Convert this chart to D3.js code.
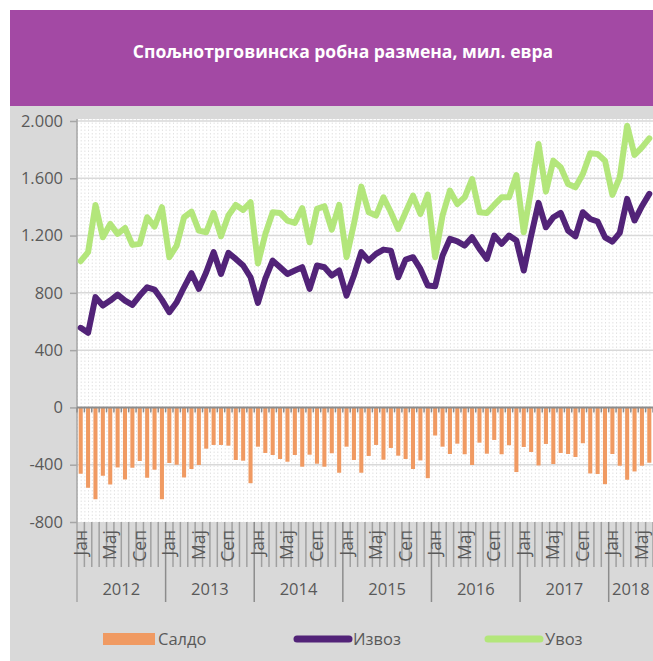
<!DOCTYPE html>
<html>
<head>
<meta charset="utf-8">
<script src="https://cdn.jsdelivr.net/npm/d3@7"></script>
<style>
  body { margin: 0; background: #fff; }
  svg { display: block; font-family: "Open Sans", sans-serif; }
</style>
</head>
<body>
<div id="chart"></div>
<script>
// years shown on the category axis and how many months each one has
var years = ["2012", "2013", "2014", "2015", "2016", "2017", "2018"];
var monthsInYear = [12, 12, 12, 12, 12, 12, 6];
var monthNames = ["Јан", "Феб", "Мар", "Апр", "Мај", "Јун", "Јул", "Авг", "Сеп", "Окт", "Нов", "Дец"];

// Извоз (export), mil. EUR
var izvoz = [
    556, 521, 770, 711, 746, 788, 746, 716, 781, 839, 823, 751,
    665, 735, 839, 937, 828, 944, 1084, 932, 1079, 1037, 991, 909,
    730, 900, 1025, 979, 932, 956, 979, 828, 991, 979, 921, 956,
    781, 921, 1084, 1025, 1072, 1102, 1095, 909, 1032, 1049, 967, 851,
    846, 1060, 1177, 1160, 1130, 1188, 1107, 1037, 1200, 1142, 1200, 1165,
    956, 1200, 1428, 1258, 1328, 1358, 1235, 1195, 1363, 1316, 1298, 1188,
    1158, 1219, 1456, 1305, 1405, 1491
];
// Увоз (import), mil. EUR
var uvoz = [
    1021, 1084, 1414, 1188, 1281, 1212, 1253, 1135, 1142, 1328, 1263, 1398,
    1049, 1130, 1328, 1367, 1235, 1223, 1358, 1195, 1340, 1414, 1379, 1433,
    1005, 1210, 1363, 1358, 1305, 1288, 1391, 1153, 1386, 1405, 1242, 1414,
    1049, 1281, 1542, 1363, 1340, 1467, 1363, 1246, 1363, 1479, 1351, 1486,
    1049, 1340, 1514, 1420, 1467, 1595, 1363, 1358, 1414, 1467, 1467, 1623,
    1223, 1526, 1840, 1507, 1723, 1677, 1560, 1537, 1630, 1774, 1770, 1723,
    1484, 1607, 1967, 1763, 1816, 1879
];
// Салдо (balance), mil. EUR
var saldo = [
    -463, -561, -641, -477, -538, -419, -503, -421, -374, -491, -435, -641,
    -388, -400, -489, -430, -402, -288, -262, -262, -267, -367, -372, -529,
    -274, -318, -332, -360, -379, -332, -414, -330, -393, -414, -320, -456,
    -274, -367, -456, -339, -262, -365, -283, -337, -360, -430, -370, -494,
    -196, -274, -325, -253, -327, -402, -246, -323, -227, -327, -264, -451,
    -276, -311, -405, -255, -395, -318, -325, -346, -250, -461, -465, -536,
    -325, -407, -505, -447, -407, -386
];
var yTicks = [-800, -400, 0, 400, 800, 1200, 1600, 2000];

var W = 653, H = 661;
var plot = {left: 77, right: 653, top: 119, bottom: 522};

// categories: one per month
var cats = [];
years.forEach(function(y, yi) {
    for (var m = 0; m < monthsInYear[yi]; m++) {
        cats.push({year: y, month: m, idx: cats.length});
    }
});

var svg = d3.select("#chart").append("svg")
    .attr("width", W)
    .attr("height", H);

// backgrounds
svg.append("rect").attr("x", 10).attr("y", 106).attr("width", W - 10).attr("height", H - 106).attr("fill", "#d9d9d9");
svg.append("rect").attr("x", 10).attr("y", 10).attr("width", W - 10).attr("height", 96).attr("fill", "#a349a4");
svg.append("text")
    .attr("x", 343).attr("y", 58)
    .attr("text-anchor", "middle")
    .attr("fill", "#fff")
    .attr("font-weight", "bold")
    .attr("font-size", "17.5px")
    .text("Спољнотрговинска робна размена, мил. евра");

svg.append("rect")
    .attr("x", plot.left).attr("y", plot.top)
    .attr("width", plot.right - plot.left).attr("height", plot.bottom - plot.top)
    .attr("fill", "#fff");

var x = d3.scaleBand()
    .domain(cats.map(function(d) { return d.idx; }))
    .range([plot.left, plot.right])
    .paddingInner(0.45)
    .paddingOuter(0.225);
var step = x.step();
var x0 = plot.left;

var y = d3.scaleLinear()
    .domain([-800, 2000])
    .range([plot.bottom, 121]);

var locale = d3.formatLocale({decimal: ",", thousands: ".", grouping: [3], currency: ["", ""], minus: "-"});
var fmt = locale.format(",");

// vertical dotted gridlines, at month edges and centres
var vgrid = d3.range(0, cats.length * 2);
svg.append("g").selectAll("line").data(vgrid).enter().append("line")
    .attr("x1", function(d) { return x0 + d * step / 2 + 0.5; })
    .attr("x2", function(d) { return x0 + d * step / 2 + 0.5; })
    .attr("y1", plot.top).attr("y2", plot.bottom)
    .attr("stroke", "#e2e2e2")
    .attr("stroke-width", 1)
    .attr("stroke-dasharray", "1.5,2");

// horizontal gridlines
svg.append("g").selectAll("line").data(yTicks.filter(function(d) { return d != 0 && d != -800; })).enter().append("line")
    .attr("x1", plot.left).attr("x2", plot.right)
    .attr("y1", function(d) { return y(d); }).attr("y2", function(d) { return y(d); })
    .attr("stroke", "#d9d9d9")
    .attr("stroke-width", 1.5);

// y axis
var yAxis = svg.append("g")
    .attr("transform", "translate(" + plot.left + ",0)")
    .call(d3.axisLeft(y).tickValues(yTicks).tickFormat(fmt).tickSize(7).tickSizeOuter(0));
yAxis.select(".domain").attr("stroke", "#a6a6a6").attr("stroke-width", 1.5);
yAxis.selectAll(".tick line").attr("stroke", "#a6a6a6").attr("stroke-width", 1.5);
yAxis.selectAll(".tick text")
    .attr("fill", "#595959")
    .attr("font-size", "16.5px")
    .attr("font-family", "Open Sans, sans-serif")
    .attr("x", -14);
yAxis.select(".domain").attr("d", "M0," + plot.top + "V602");

// saldo bars
svg.append("g").selectAll("rect").data(cats).enter().append("rect")
    .attr("x", function(d) { return x(d.idx); })
    .attr("width", x.bandwidth())
    .attr("y", function(d) { return y(0); })
    .attr("height", function(d) { return y(saldo[d.idx]) - y(0); })
    .attr("fill", "#f09a62");

// zero line with ticks
svg.append("line")
    .attr("x1", plot.left).attr("x2", plot.right)
    .attr("y1", y(0)).attr("y2", y(0))
    .attr("stroke", "#8c8c8c").attr("stroke-width", 2);
svg.append("g").selectAll("line").data(d3.range(0, cats.length + 1)).enter().append("line")
    .attr("x1", function(d) { return x0 + d * step; })
    .attr("x2", function(d) { return x0 + d * step; })
    .attr("y1", y(0)).attr("y2", y(0) + 5)
    .attr("stroke", "#8c8c8c").attr("stroke-width", 1.5);

// lines
var line = d3.line()
    .x(function(d, i) { return x(i) + x.bandwidth() / 2; })
    .y(function(d) { return y(d); });

svg.append("path").datum(uvoz)
    .attr("d", line)
    .attr("fill", "none")
    .attr("stroke", "#b3e67b")
    .attr("stroke-width", 6)
    .attr("stroke-linejoin", "round")
    .attr("stroke-linecap", "round");

svg.append("path").datum(izvoz)
    .attr("d", line)
    .attr("fill", "none")
    .attr("stroke", "#522378")
    .attr("stroke-width", 6)
    .attr("stroke-linejoin", "round")
    .attr("stroke-linecap", "round");

// category axis: month dividers, month labels, year dividers, year labels
var xAxis = svg.append("g");
xAxis.selectAll("line.m").data(d3.range(1, cats.length + 1)).enter().append("line")
    .attr("class", "m")
    .attr("x1", function(d) { return x0 + d * step; })
    .attr("x2", function(d) { return x0 + d * step; })
    .attr("y1", plot.bottom)
    .attr("y2", function(d) { return cats[d] && cats[d].month == 0 ? 602 : 567; })
    .attr("stroke", function(d) { return cats[d] && cats[d].month == 0 ? "#8c8c8c" : "#a0a0a0"; })
    .attr("stroke-width", 1.5);

xAxis.selectAll("text.m").data(cats.filter(function(d) { return d.month % 4 == 0; })).enter().append("text")
    .attr("class", "m")
    .attr("transform", function(d) {
        return "translate(" + (x(d.idx) + x.bandwidth() / 2 + 6) + "," + 530 + ") rotate(-90)";
    })
    .attr("text-anchor", "end")
    .attr("fill", "#595959")
    .attr("font-size", "17.5px")
    .text(function(d) { return monthNames[d.month]; });

var yearStart = 0;
years.forEach(function(yr, yi) {
    var n = monthsInYear[yi];
    xAxis.append("text")
        .attr("x", x0 + (yearStart + n / 2) * step)
        .attr("y", 595)
        .attr("text-anchor", "middle")
        .attr("fill", "#595959")
        .attr("font-size", "16.5px")
        .text(yr);
    yearStart += n;
});

// legend
var legend = svg.append("g").attr("font-size", "16.5px").attr("fill", "#595959");
legend.append("rect").attr("x", 103).attr("y", 633).attr("width", 52).attr("height", 12).attr("fill", "#f09a62");
legend.append("text").attr("x", 158).attr("y", 645).text("Салдо");
legend.append("line").attr("x1", 297).attr("x2", 349).attr("y1", 639).attr("y2", 639)
    .attr("stroke", "#522378").attr("stroke-width", 7).attr("stroke-linecap", "round");
legend.append("text").attr("x", 353).attr("y", 645).text("Извоз");
legend.append("line").attr("x1", 488).attr("x2", 540).attr("y1", 639).attr("y2", 639)
    .attr("stroke", "#b3e67b").attr("stroke-width", 7).attr("stroke-linecap", "round");
legend.append("text").attr("x", 545).attr("y", 645).text("Увоз");
</script>
</body>
</html>
